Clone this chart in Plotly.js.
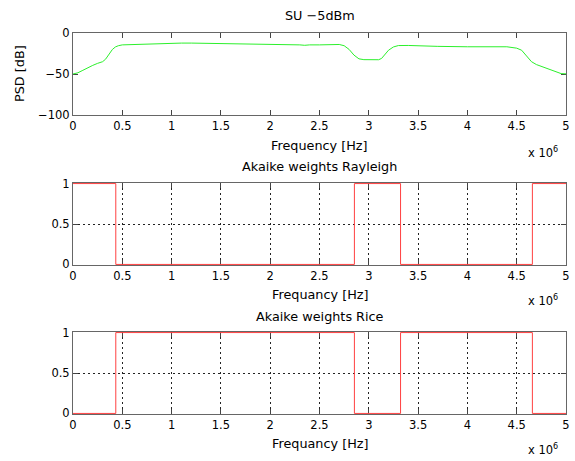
<!DOCTYPE html>
<html>
<head>
<meta charset="utf-8">
<script src="https://cdn.plot.ly/plotly-3.0.1.min.js"></script>
<style>html,body{margin:0;padding:0;background:#fff;}#chart{width:575px;height:461px;}</style>
</head>
<body>
<div id="chart"></div>
<script>
// Frequency in units of 1e6 Hz
const psdFreq = [0, 0.05, 0.1, 0.15, 0.2, 0.25, 0.3, 0.33, 0.37, 0.4, 0.43, 0.46, 0.5, 0.6, 0.7, 0.8, 0.9, 1.0, 1.1, 1.2, 1.3, 1.4, 1.45, 1.5, 1.6, 1.8, 2.0, 2.2, 2.3, 2.35, 2.4, 2.5, 2.6, 2.7, 2.75, 2.8, 2.85, 2.9, 2.95, 3.0, 3.1, 3.13, 3.17, 3.2, 3.25, 3.3, 3.4, 3.5, 3.7, 4.0, 4.2, 4.4, 4.5, 4.55, 4.6, 4.65, 4.7, 4.8, 4.9, 4.95, 5.0];
const psdDb   = [-50, -48.5, -45.5, -42, -39.5, -37, -35, -32, -25, -20, -17, -15.5, -14.5, -14, -13.5, -13, -12.5, -12.3, -12.3, -12.3, -12.5, -12.8, -12.3, -12.8, -13.2, -13.5, -13.8, -14, -14.5, -15, -14.5, -14.5, -14, -14, -15.5, -20, -27, -31.5, -32.5, -32.6, -32.6, -31, -25, -21, -17, -15.3, -15.2, -15.8, -16.3, -16.8, -16.8, -16.8, -18.5, -21, -28, -35, -38.5, -43, -47, -49.5, -49.8];

const rayleighFreq = [0, 0.434, 2.854, 3.322, 4.659, 5];
const rayleighW    = [1, 0, 1, 0, 1, 1];
const riceFreq     = [0, 0.434, 2.854, 3.322, 4.659, 5];
const riceW        = [0, 1, 0, 1, 0, 0];

const xTicks = [0, 0.5, 1, 1.5, 2, 2.5, 3, 3.5, 4, 4.5, 5];

const FAM = 'DejaVu Sans, Verdana, sans-serif';
const TICKFONT = {family: FAM, size: 11.5, color: '#000'};
const LABELFONT = {family: FAM, size: 12.8, color: '#000'};

const traces = [
  {x: psdFreq, y: psdDb, type: 'scatter', mode: 'lines', line: {color: '#2cf02c', width: 1}, xaxis: 'x', yaxis: 'y', hoverinfo: 'skip'},
  {x: rayleighFreq, y: rayleighW, type: 'scatter', mode: 'lines', line: {color: '#ff4040', width: 1, shape: 'hv'}, xaxis: 'x2', yaxis: 'y2', hoverinfo: 'skip'},
  {x: riceFreq, y: riceW, type: 'scatter', mode: 'lines', line: {color: '#ff4040', width: 1, shape: 'hv'}, xaxis: 'x3', yaxis: 'y3', hoverinfo: 'skip'}
];

function xax(grid, anchor) {
  return {
    range: [0, 5], tickvals: xTicks, ticktext: xTicks.map(String), anchor: anchor,
    showline: true, mirror: 'ticks', linecolor: '#666', linewidth: 1,
    ticks: 'inside', ticklen: 5, tickcolor: '#444', zeroline: false,
    showgrid: grid, gridcolor: '#222', griddash: '2px,3px', gridwidth: 1,
    tickfont: TICKFONT, layer: 'below traces', fixedrange: true
  };
}
function yax(range, vals, grid, domain, anchor) {
  return {
    range: range, tickvals: vals, domain: domain, anchor: anchor,
    showline: true, mirror: 'ticks', linecolor: '#666', linewidth: 1,
    ticks: 'inside', ticklen: 5, tickcolor: '#444', zeroline: false,
    showgrid: grid, gridcolor: '#222', griddash: '2px,3px', gridwidth: 1,
    tickfont: TICKFONT, layer: 'below traces', fixedrange: true
  };
}

function py(px) { return (414 - px) / 381; }

const ann = [];
function addText(text, x, y, opts) {
  ann.push(Object.assign({text: text, xref: 'paper', yref: 'paper', x: x, y: y, showarrow: false, font: LABELFONT, xanchor: 'center', yanchor: 'middle'}, opts || {}));
}
addText('SU −5dBm', 0.5, py(15));
addText('Frequency [Hz]', 0.5, py(145));
addText('Akaike weights Rayleigh', 0.5, py(166));
addText('Frequancy [Hz]', 0.5, py(294));
addText('Akaike weights Rice', 0.5, py(316));
addText('Frequancy [Hz]', 0.5, py(443));
[152, 300, 449].forEach(function (p) {
  addText('x 10<sup>6</sup>', (543 - 73) / 493, py(p), {font: TICKFONT});
});
addText('PSD [dB]', (20 - 73) / 493, py(74), {textangle: -90});

const PAD = 0.007;
const layout = {
  width: 575, height: 461,
  margin: {l: 73, r: 9, t: 33, b: 47},
  paper_bgcolor: '#fff', plot_bgcolor: '#fff',
  showlegend: false,
  font: TICKFONT,
  xaxis: xax(false, 'y'),
  yaxis: Object.assign(yax([-100, 0], [-100, -50, 0], false, [py(115), 1], 'x'), {ticktext: ['−100', '−50', '0']}),
  xaxis2: xax(true, 'y2'),
  yaxis2: yax([-PAD, 1 + PAD], [0, 0.5, 1], true, [py(265), py(183)], 'x2'),
  xaxis3: xax(true, 'y3'),
  yaxis3: yax([-PAD, 1 + PAD], [0, 0.5, 1], true, [0, py(332)], 'x3'),
  annotations: ann
};

Plotly.newPlot('chart', traces, layout, {staticPlot: true, displayModeBar: false});
</script>
</body>
</html>
